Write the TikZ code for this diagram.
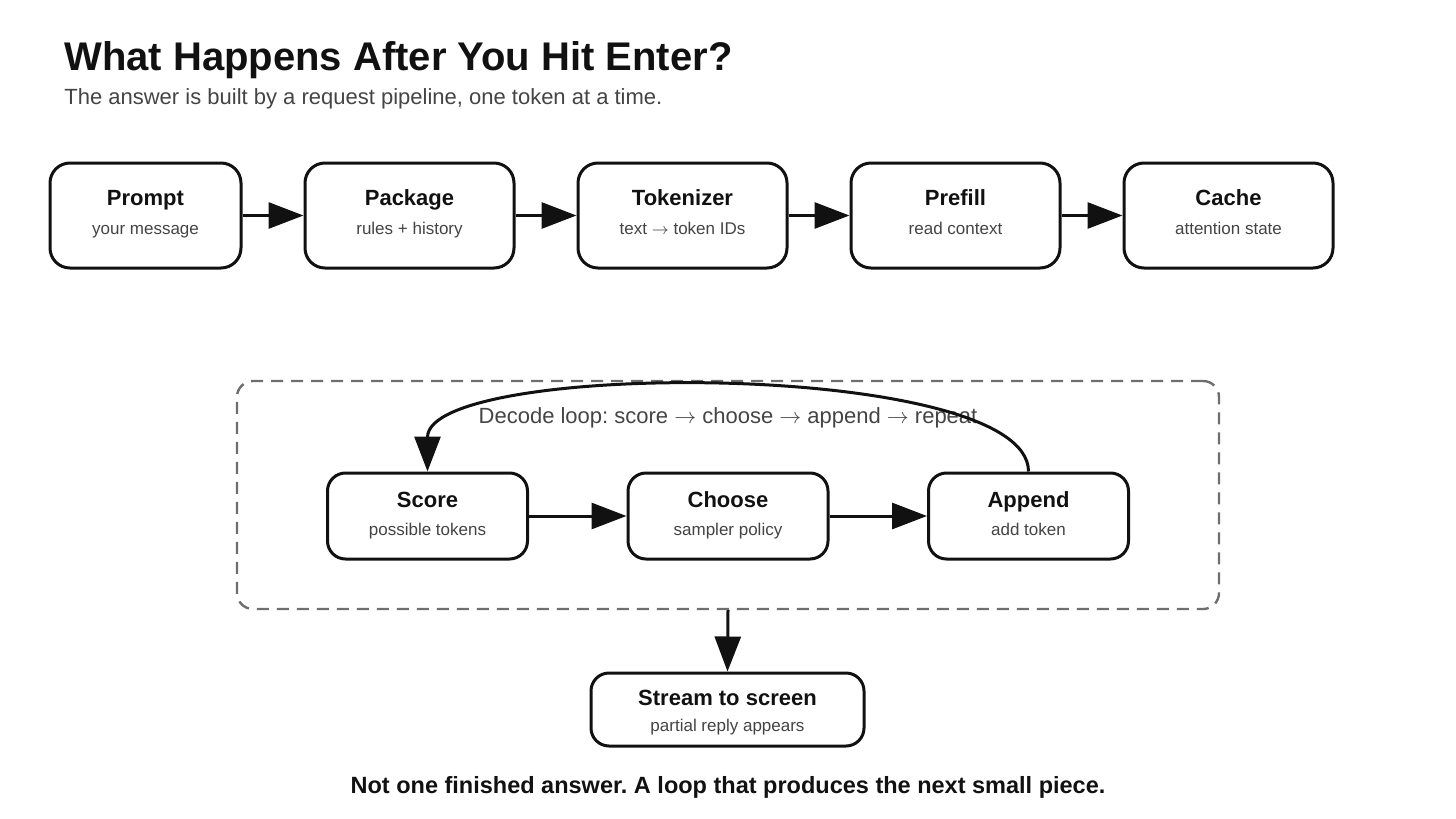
\documentclass[tikz,border=0pt]{standalone}
\usepackage{fontspec}
\setmainfont{Liberation Sans}
\usetikzlibrary{arrows.meta}
\frenchspacing

\definecolor{ink}{HTML}{111111}
\definecolor{subgray}{HTML}{444444}
\definecolor{dashgray}{HTML}{6E6E6E}

\tikzset{
	stage/.style = {draw = ink, line width = 1.5pt, rounded corners = 10pt, fill = white, inner sep = 0pt, align = center},
	flow/.style = {->, draw = ink, line width = 1.5pt},
	caption/.style = {inner sep = 0pt, text = subgray, font = \fontsize{11}{13}\selectfont}
}

% title, subtitle, strut height above, strut depth below
\newcommand{\stagetext}[4]{{\fontsize{11}{14}\selectfont\bfseries\color{ink}\rule{0pt}{#3}#1}\\{\color{subgray}#2\rule[-#4]{0pt}{#4}}}
\newcommand{\arr}{$\rightarrow$}

\begin{document}
\begin{tikzpicture}[x = 0.5pt, y = -0.5pt, > = {Triangle[length = 17.5pt, width = 13pt]}]

	% Canvas
	
	\useasboundingbox (0, 0) rectangle (1456, 819);

	% Heading
	
	\node [anchor = base west, inner sep = 0pt, text = ink, font = \fontsize{20}{24}\selectfont\bfseries] (title) at (64, 70) {What Happens After You Hit Enter?};
	\node [caption, anchor = base west] (subtitle) at (64, 104) {The answer is built by a request pipeline, one token at a time.};

	% Request pipeline
	
	\foreach \name/\head/\sub/\X/\W in {prompt/Prompt/your message/145.5/95.5, package/Package/rules + history/409.5/104.5, tokenizer/Tokenizer/text \arr{} token IDs/682.5/104.5, prefill/Prefill/read context/955.5/104.5, cache/Cache/attention state/1228.5/104.5}
		\node [stage, minimum width = \W pt, minimum height = 52.5pt, font = \fontsize{8.5}{14.5}\selectfont] (\name) at (\X, 215.5) {\stagetext{\head}{\sub}{8.5pt}{4.5pt}};
	
	\foreach \a/\b in {prompt/package, package/tokenizer, tokenizer/prefill, prefill/cache}
		\draw [flow] (\a) -- (\b);

	% Decode loop
	
	\node [draw = dashgray, dash pattern = on 6pt off 4pt, line width = 1.2pt, rounded corners = 8pt, minimum width = 491pt, minimum height = 114pt, inner sep = 0pt] (loop) at (728, 495) {};
	\node [caption, anchor = base] (looplabel) at (728, 423) {Decode loop: score \arr{} choose \arr{} append \arr{} repeat};
	
	\foreach \name/\head/\sub/\X in {score/Score/possible tokens/427.5, choose/Choose/sampler policy/728, append/Append/add token/1028.5}
		\node [stage, rounded corners = 9pt, minimum width = 100pt, minimum height = 43pt, font = \fontsize{8.5}{14}\selectfont] (\name) at (\X, 516) {\stagetext{\head}{\sub}{8.5pt}{2.8pt}};
	
	\draw [flow] (score) -- (choose);
	\draw [flow] (choose) -- (append);
	\draw [flow] (append.north) .. controls +(0, -112) and +(0, -112) .. (score.north);

	% Output
	
	\node [stage, rounded corners = 9pt, minimum width = 136.5pt, minimum height = 36.5pt, font = \fontsize{8.5}{13.25}\selectfont] (stream) at (727.5, 709.5) {\stagetext{Stream to screen}{partial reply appears}{11pt}{2.25pt}};
	\draw [flow] (loop.south) -- (stream.north);
	
	\node [anchor = base, inner sep = 0pt, text = ink, font = \fontsize{11.75}{14}\selectfont\bfseries] (footer) at (728, 793) {Not one finished answer. A loop that produces the next small piece.};

\end{tikzpicture}
\end{document}
